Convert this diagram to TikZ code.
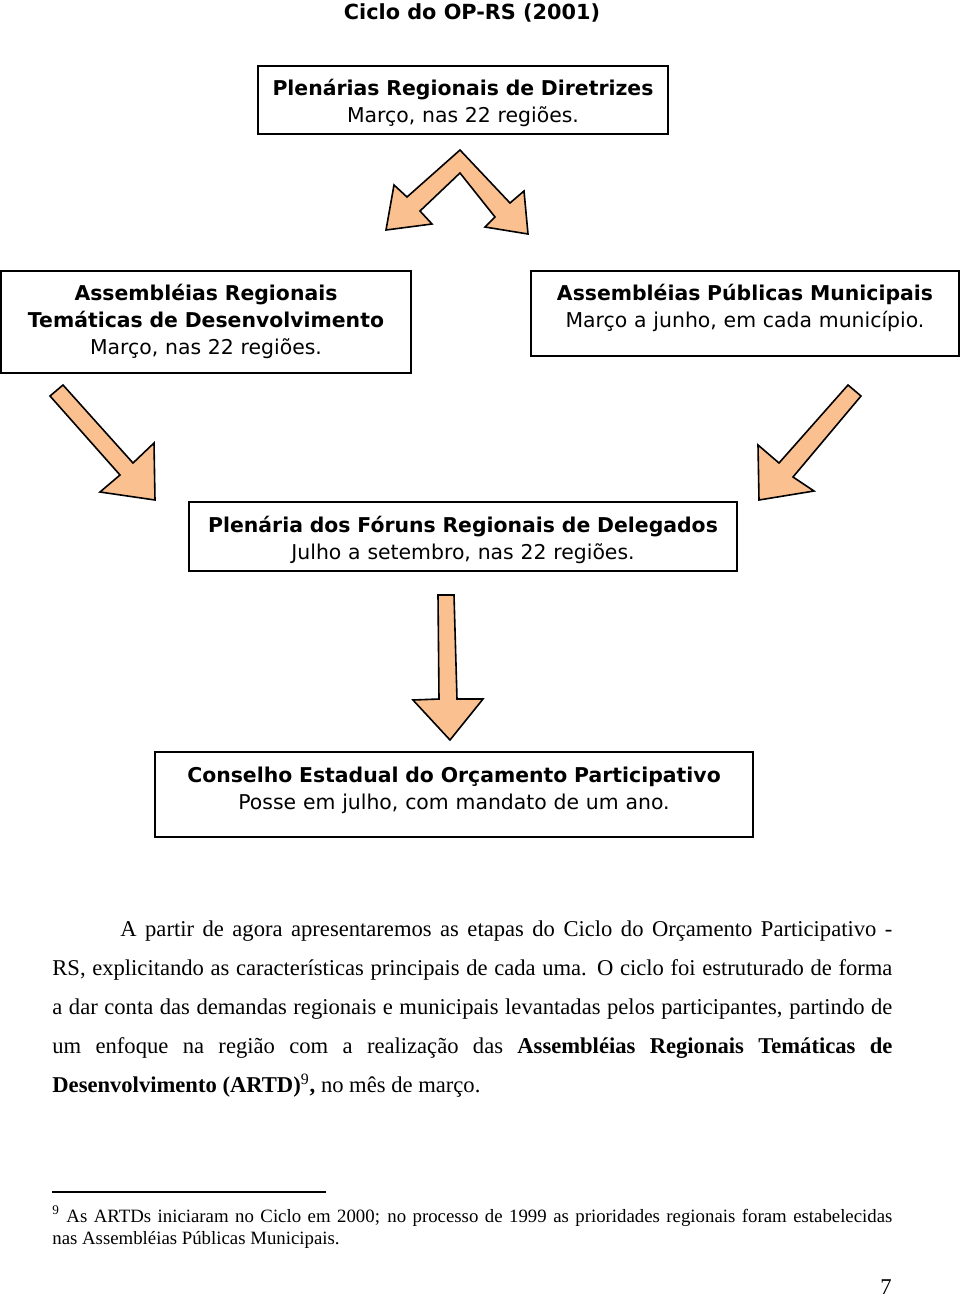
\documentclass[tikz,border=0pt]{standalone}
\usepackage{fontspec}
\setmainfont{Liberation Serif}
\newfontfamily\vf{DejaVu Sans}
\definecolor{peach}{RGB}{250,192,143}
\begin{document}
\begin{tikzpicture}[x=0.5pt,y=-0.5pt,
  box/.style={draw=black,line width=1pt,fill=white,inner sep=0pt},
  btxt/.style={text width=320pt,align=center,anchor=base,inner sep=0pt,font=\vf\fontsize{10.2}{13.5}\selectfont},
  fat/.style={fill=peach,draw=black,line width=0.8pt,line join=miter}]
\useasboundingbox (0,0) rectangle (960,1296);
% title
\node[anchor=base,inner sep=0pt,font=\vf\bfseries\fontsize{10.4}{13.5}\selectfont] (title) at (472,19) {Ciclo do OP-RS (2001)};
% box 1
\node[box,minimum width=205pt,minimum height=34pt] (b1) at (463,100) {};
\node[btxt] (b1t) at (b1.center |- 0,95) {\textbf{Plenárias Regionais de Diretrizes}\\Março, nas 22 regiões.};
% box 2
\node[box,minimum width=205pt,minimum height=51pt] (b2) at (206,322) {};
\node[btxt] (b2t) at (b2.center |- 0,300) {\textbf{Assembléias Regionais}\\\textbf{Temáticas de Desenvolvimento}\\Março, nas 22 regiões.};
% box 3
\node[box,minimum width=214pt,minimum height=42.5pt] (b3) at (745,313.5) {};
\node[btxt] (b3t) at (b3.center |- 0,300) {\textbf{Assembléias Públicas Municipais}\\Março a junho, em cada município.};
% box 4
\node[box,minimum width=274pt,minimum height=34.5pt] (b4) at (463,536.5) {};
\node[btxt] (b4t) at (b4.center |- 0,532) {\textbf{Plenária dos Fóruns Regionais de Delegados}\\Julho a setembro, nas 22 regiões.};
% box 5
\node[box,minimum width=299pt,minimum height=42.5pt] (b5) at (454,794.5) {};
\node[btxt] (b5t) at (b5.center |- 0,782) {\textbf{Conselho Estadual do Orçamento Participativo}\\Posse em julho, com mandato de um ano.};
% chevron double arrow
\draw[fat] (460,150) -- (407,197) -- (394,185) -- (386,230) -- (432,224) -- (420,211) -- (460,173)
  -- (495,217) -- (485,227) -- (528,234) -- (524,191) -- (510,203) -- cycle;
% left diagonal arrow
\draw[fat] (50,396) -- (63,385) -- (133,463) -- (154,443) -- (155,500) -- (100,492) -- (120,475) -- cycle;
% right diagonal arrow
\draw[fat] (848,385) -- (861,396) -- (793,477) -- (814,491) -- (759,500) -- (758,445) -- (779,463) -- cycle;
% down arrow
\draw[fat] (438,595) -- (454,595) -- (457,699) -- (483,699) -- (450,740) -- (413,700) -- (439,699) -- cycle;
% paragraph
\node[anchor=base west,inner sep=0pt,text width=420pt,align=justify,font=\fontsize{11.3}{19.6}\selectfont] (para) at (52,936)
{\hspace*{34pt}A partir de agora apresentaremos as etapas do Ciclo do Orçamento Participativo -\linebreak
RS, explicitando as características principais de cada uma. O ciclo foi estruturado de forma\linebreak
a dar conta das demandas regionais e municipais levantadas pelos participantes, partindo de\linebreak
um enfoque na região com a realização das \textbf{Assembléias Regionais Temáticas de}\linebreak
\textbf{Desenvolvimento (ARTD)}\textsuperscript{9}\textbf{,} no mês de março.};
% footnote rule
\coordinate (fr1) at (52,1192);
\coordinate (fr2) at (326,1192);
\draw[line width=0.6pt] (fr1) -- (fr2);
\node[anchor=base west,inner sep=0pt,text width=420pt,align=justify,font=\fontsize{9.4}{11}\selectfont] (foot) at (52,1222)
{\textsuperscript{9} As ARTDs iniciaram no Ciclo em 2000; no processo de 1999 as prioridades regionais foram estabelecidas\linebreak
nas Assembléias Públicas Municipais.};
\node[anchor=base,inner sep=0pt,font=\fontsize{11.3}{13}\selectfont] (pg) at (886,1294) {7};
\end{tikzpicture}
\end{document}
